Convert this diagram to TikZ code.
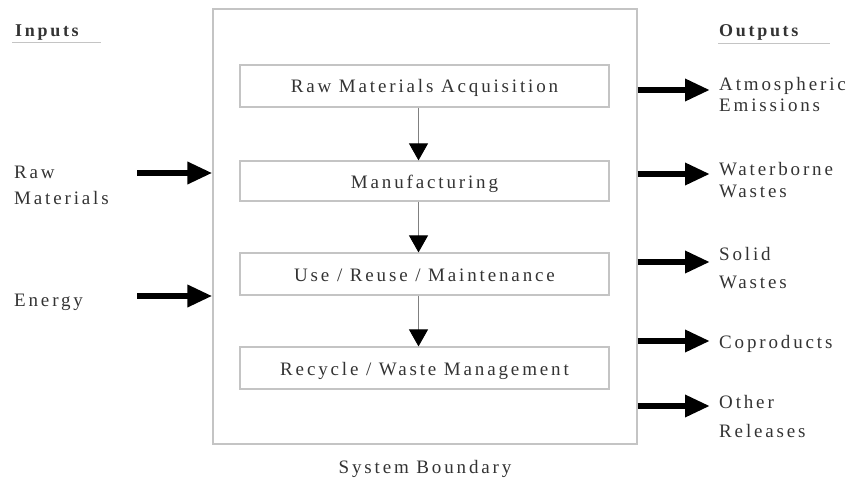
\documentclass[tikz,border=0pt]{standalone}
\usepackage{fontspec}
\setmainfont{Liberation Serif}[LetterSpace=15]
\usetikzlibrary{arrows.meta}
\definecolor{txt}{HTML}{333333}
\definecolor{frame}{HTML}{C4C4C4}
\begin{document}
\begin{tikzpicture}[x=1pt,y=-1pt,
  lbl/.style={font=\fontsize{19}{20}\selectfont, text=txt, inner sep=0pt, align=left, anchor=base west},
  head/.style={font=\fontsize{18}{20}\selectfont\bfseries, text=txt, inner sep=0pt, anchor=base west},
  stage/.style={draw=frame, line width=1.2pt, minimum width=369pt, minimum height=42pt,
    font=\fontsize{19}{20}\selectfont, text=txt, inner sep=0pt, text height=14pt, text depth=0pt},
  boundary/.style={draw=frame, line width=1.2pt, minimum width=424pt, minimum height=435pt, inner sep=0pt},
  bigarrow/.style={line width=6.5pt, black, -{Triangle[length=25pt,width=21pt]}},
  flow/.style={draw=gray, line width=0.9pt, -{Triangle[length=17pt,width=19pt,color=black]}},
  rule/.style={draw=frame, line width=1.2pt}]
\useasboundingbox (0,0) rectangle (850,481);

% system boundary
\node[boundary] (sys) at (425,226.5) {};
\node[font=\fontsize{19}{20}\selectfont, text=txt, inner sep=0pt, anchor=base] (sysl) at (425,473) {System Boundary};

% stages
\node[stage] (b1) at (424.5,86) {Raw Materials Acquisition};
\node[stage, minimum height=40pt] (b2) at (424.5,181) {Manufacturing};
\node[stage] (b3) at (424.5,274) {Use / Reuse / Maintenance};
\node[stage] (b4) at (424.5,368) {Recycle / Waste Management};

\draw[flow] ([xshift=-6pt]b1.south) -- ([xshift=-6pt]b2.north);
\draw[flow] ([xshift=-6pt]b2.south) -- ([xshift=-6pt]b3.north);
\draw[flow] ([xshift=-6pt]b3.south) -- ([xshift=-6pt]b4.north);

% headings
\node[head] (hin) at (15,37) {Inputs};
\draw[rule] (12,42.5) -- (101,42.5);
\node[head] (hout) at (719,37) {Outputs};
\draw[rule] (718,43.5) -- (830,43.5);

% inputs
\node[lbl] (rm) at (14,204) {Raw\\[5pt]Materials};
\node[lbl] (en) at (14,306) {Energy};
\coordinate (i1) at (137,173);
\coordinate (i2) at (137,296);
\draw[bigarrow] (i1) -- (i1 -| sys.west);
\draw[bigarrow] (i2) -- (i2 -| sys.west);

% outputs
\coordinate (o1) at (710,90);
\coordinate (o2) at (710,174);
\coordinate (o3) at (710,262);
\coordinate (o4) at (710,341);
\coordinate (o5) at (710,406);
\foreach \o in {o1,o2,o3,o4,o5}{
  \draw[bigarrow] (\o -| sys.east) -- (\o);
}
\node[lbl] (ae) at (719,112) {Atmospheric\\[1pt]Emissions};
\node[lbl] (ww) at (719,197) {Waterborne\\[2pt]Wastes};
\node[lbl] (sw) at (719,288) {Solid\\[8pt]Wastes};
\node[lbl] (cp) at (719,348) {Coproducts};
\node[lbl] (orl) at (719,437) {Other\\[9pt]Releases};
\end{tikzpicture}
\end{document}
